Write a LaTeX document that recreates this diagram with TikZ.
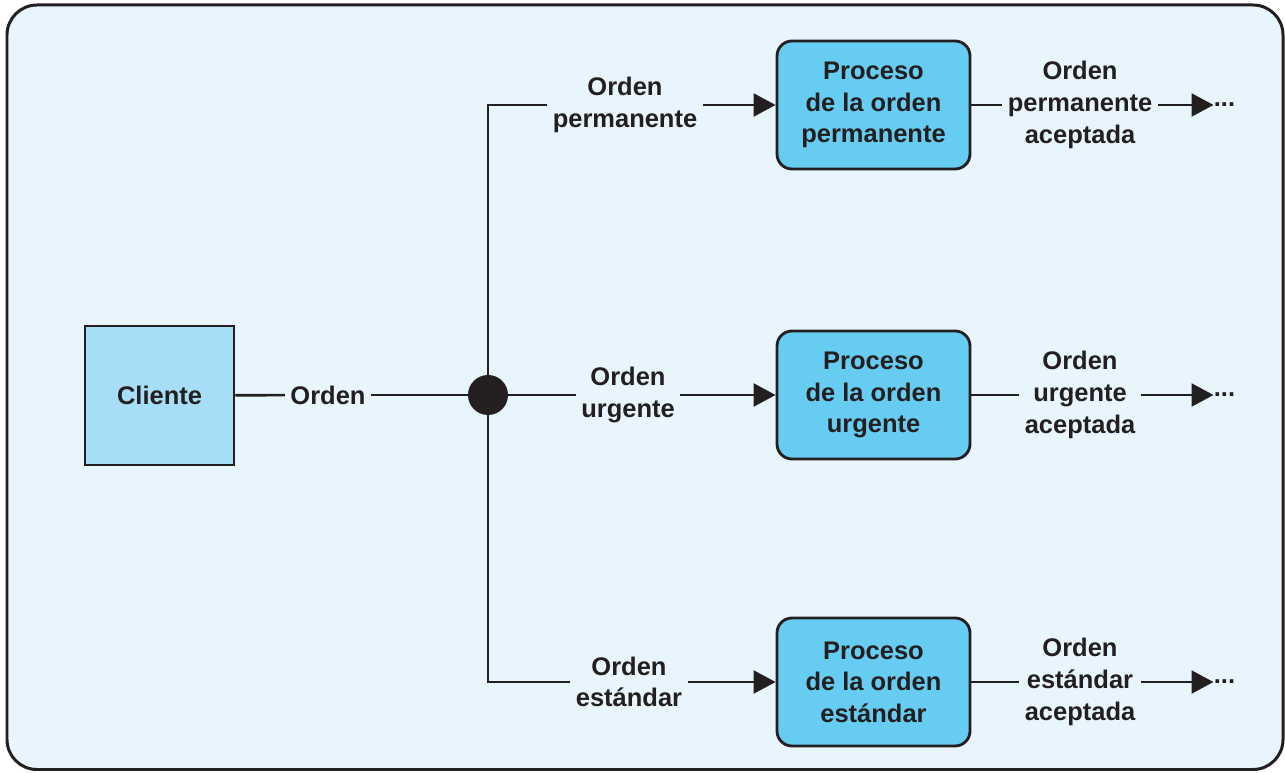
\documentclass[tikz,border=0pt]{standalone}
\usepackage{fontspec}
\setmainfont{Liberation Sans}
\usetikzlibrary{arrows.meta, positioning}
\definecolor{inkdark}{RGB}{35,31,32}
\definecolor{panelbg}{RGB}{232,245,252}
\definecolor{clientblue}{RGB}{166,221,247}
\definecolor{procblue}{RGB}{102,204,242}

\begin{document}
\begin{tikzpicture}[
  every node/.style={font=\fontsize{14.5}{18}\selectfont\bfseries, text=inkdark},
  clientbox/.style={rectangle, draw=inkdark, fill=clientblue, line width=1.6pt, minimum width=2.98cm, minimum height=2.78cm},
  procbox/.style={rectangle, draw=inkdark, fill=procblue, line width=1.6pt, rounded corners=0.3cm, minimum width=3.86cm, minimum height=2.56cm, align=center},
  flowlabel/.style={align=center, inner sep=3pt},
  junction/.style={circle, fill=inkdark, inner sep=0pt, minimum size=0.8cm},
  wire/.style={draw=inkdark, line width=1.5pt},
  arr/.style={wire, -{Triangle[length=12.5pt, width=13pt]}},
]

\useasboundingbox (0,0) rectangle (25.7,15.44);

%% Panel
\draw[draw=inkdark, fill=panelbg, line width=1.7pt, rounded corners=0.6cm] (0.14,0.05) rectangle (25.66,15.34);

%% Client and junction
\node[clientbox] (cliente) at (3.19, 7.53) {Cliente};
\node[flowlabel] (orden) at (6.56, 7.54) {Orden};
\node[junction] (split) at (9.76, 7.54) {};

\draw[wire] (cliente) -- (orden);
\draw[wire] (orden) -- (split);

%% Branch labels
\node[flowlabel] (lperm) at (12.5, 13.34) {Orden\\permanente};
\node[flowlabel] (lurg)  at (12.56, 7.54) {Orden\\urgente};
\node[flowlabel] (lstd)  at (12.58, 1.8)  {Orden\\estándar};

%% Process boxes
\node[procbox] (pperm) at (17.47, 13.34) {Proceso\\de la orden\\permanente};
\node[procbox] (purg)  at (17.47, 7.54)  {Proceso\\de la orden\\urgente};
\node[procbox] (pstd)  at (17.47, 1.8)   {Proceso\\de la orden\\estándar};

%% Accepted orders
\node[flowlabel] (aperm) at (21.6, 13.34) {Orden\\permanente\\aceptada};
\node[flowlabel] (aurg)  at (21.6, 7.54)  {Orden\\urgente\\aceptada};
\node[flowlabel] (astd)  at (21.6, 1.8)   {Orden\\estándar\\aceptada};

%% Continuation dots
\node[inner sep=0pt, anchor=west] (dperm) at (24.27, 13.34) {...};
\node[inner sep=0pt, anchor=west] (durg)  at (24.27, 7.54)  {...};
\node[inner sep=0pt, anchor=west] (dstd)  at (24.27, 1.8)   {...};

%% Branches out of the junction
\draw[wire] (split) |- (lperm);
\draw[wire] (split) -- (lurg);
\draw[wire] (split) |- (lstd);

\draw[arr] (lperm) -- (pperm);
\draw[arr] (lurg) -- (purg);
\draw[arr] (lstd) -- (pstd);

%% Outputs
\draw[wire] (pperm) -- (aperm);
\draw[wire] (purg) -- (aurg);
\draw[wire] (pstd) -- (astd);

\draw[arr] (aperm) -- (dperm);
\draw[arr] (aurg) -- (durg);
\draw[arr] (astd) -- (dstd);

\end{tikzpicture}
\end{document}
